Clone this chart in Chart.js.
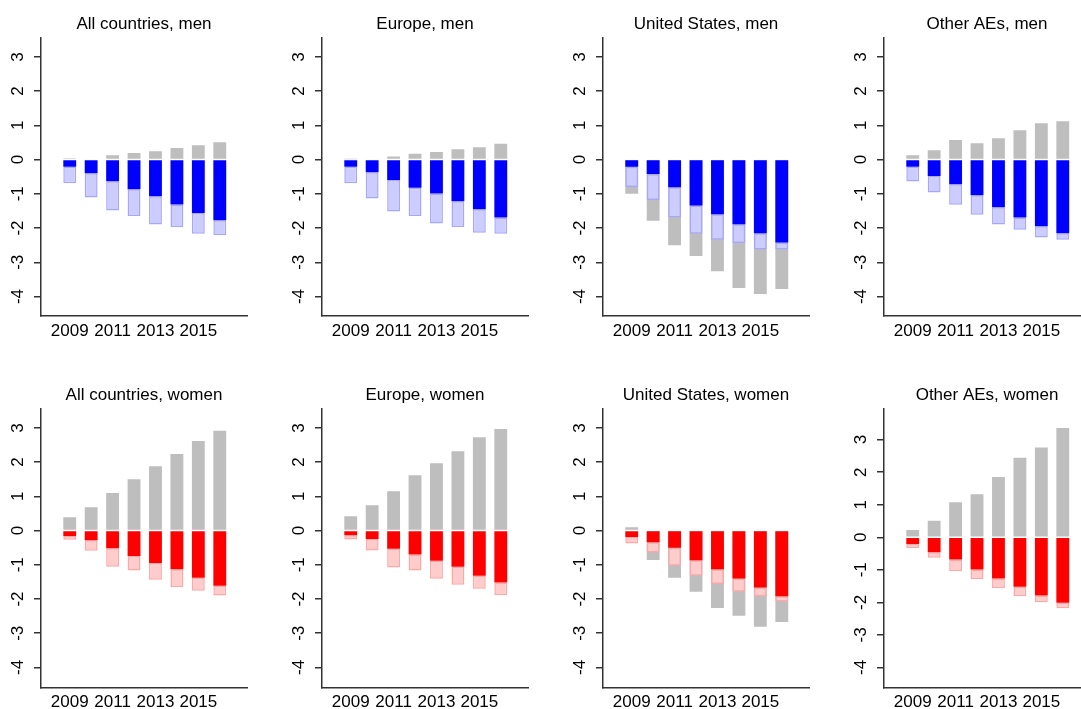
<!DOCTYPE html>
<html>
<head>
<meta charset="utf-8">
<script src="https://cdn.jsdelivr.net/npm/chart.js@4.4.1/dist/chart.umd.min.js"></script>
<style>
  html, body { margin: 0; padding: 0; background: #fff; overflow: hidden; width: 1081px; height: 709px; position: relative; }
  canvas { position: absolute; }
</style>
</head>
<body>
<script>
// ==================== data ====================
const years = [2009, 2010, 2011, 2012, 2013, 2014, 2015, 2016]
const tickYears = [2009, 2011, 2013, 2015]
const yTicks = [-4, -3, -2, -1, 0, 1, 2, 3]

// total = grey bar, dark = solid bar from 0, light = outer end of the pale bar
const allMenTotal = [0.04, 0.0, 0.13, 0.19, 0.24, 0.34, 0.42, 0.51]
const allMenDark = [-0.21, -0.40, -0.63, -0.87, -1.07, -1.31, -1.56, -1.77]
const allMenLight = [-0.69, -1.11, -1.49, -1.65, -1.90, -1.97, -2.17, -2.20]

const eurMenTotal = [0.01, 0.0, 0.09, 0.17, 0.22, 0.30, 0.36, 0.46]
const eurMenDark = [-0.21, -0.37, -0.60, -0.82, -0.99, -1.22, -1.45, -1.69]
const eurMenLight = [-0.69, -1.14, -1.52, -1.65, -1.87, -1.97, -2.14, -2.17]

const usMenTotal = [-1.00, -1.79, -2.50, -2.82, -3.26, -3.75, -3.93, -3.78]
const usMenDark = [-0.21, -0.42, -0.81, -1.34, -1.60, -1.89, -2.15, -2.42]
const usMenLight = [-0.80, -1.18, -1.69, -2.17, -2.34, -2.44, -2.63, -2.63]

const oaeMenTotal = [0.13, 0.27, 0.57, 0.48, 0.62, 0.86, 1.06, 1.12]
const oaeMenDark = [-0.21, -0.48, -0.72, -1.04, -1.39, -1.69, -1.95, -2.15]
const oaeMenLight = [-0.64, -0.96, -1.32, -1.61, -1.90, -2.05, -2.28, -2.34]

const allWomenTotal = [0.39, 0.68, 1.10, 1.50, 1.88, 2.24, 2.62, 2.92]
const allWomenDark = [-0.16, -0.28, -0.52, -0.74, -0.95, -1.13, -1.38, -1.61]
const allWomenLight = [-0.27, -0.59, -1.06, -1.17, -1.44, -1.65, -1.76, -1.90]

const eurWomenTotal = [0.42, 0.74, 1.15, 1.62, 1.97, 2.32, 2.73, 2.97]
const eurWomenDark = [-0.14, -0.25, -0.53, -0.70, -0.88, -1.06, -1.32, -1.52]
const eurWomenLight = [-0.26, -0.58, -1.08, -1.17, -1.41, -1.58, -1.70, -1.88]

const usWomenTotal = [0.10, -0.86, -1.38, -1.79, -2.26, -2.49, -2.81, -2.67]
const usWomenDark = [-0.19, -0.34, -0.50, -0.87, -1.13, -1.40, -1.66, -1.92]
const usWomenLight = [-0.38, -0.64, -1.03, -1.32, -1.56, -1.79, -1.93, -2.07]

const oaeWomenTotal = [0.22, 0.51, 1.08, 1.32, 1.85, 2.44, 2.76, 3.36]
const oaeWomenDark = [-0.21, -0.46, -0.68, -0.99, -1.27, -1.52, -1.79, -2.01]
const oaeWomenLight = [-0.33, -0.63, -1.04, -1.28, -1.56, -1.81, -2.00, -2.18]

// ==================== panels ====================
const panels = [
    { title: 'All countries, men', sex: 'men', total: allMenTotal, dark: allMenDark, light: allMenLight, yMin: -4.57, yMax: 3.57 },
    { title: 'Europe, men', sex: 'men', total: eurMenTotal, dark: eurMenDark, light: eurMenLight, yMin: -4.57, yMax: 3.57 },
    { title: 'United States, men', sex: 'men', total: usMenTotal, dark: usMenDark, light: usMenLight, yMin: -4.57, yMax: 3.57 },
    { title: 'Other AEs, men', sex: 'men', total: oaeMenTotal, dark: oaeMenDark, light: oaeMenLight, yMin: -4.57, yMax: 3.57 },
    { title: 'All countries, women', sex: 'women', total: allWomenTotal, dark: allWomenDark, light: allWomenLight, yMin: -4.58, yMax: 3.57 },
    { title: 'Europe, women', sex: 'women', total: eurWomenTotal, dark: eurWomenDark, light: eurWomenLight, yMin: -4.58, yMax: 3.57 },
    { title: 'United States, women', sex: 'women', total: usWomenTotal, dark: usWomenDark, light: usWomenLight, yMin: -4.58, yMax: 3.57 },
    { title: 'Other AEs, women', sex: 'women', total: oaeWomenTotal, dark: oaeWomenDark, light: oaeWomenLight, yMin: -4.61, yMax: 3.96 }
]

const COLORS = {
    men: { dark: '#0000ff', light: '#ccccff', lightBorder: '#a6a6ff' },
    women: { dark: '#ff0000', light: '#ffcccc', lightBorder: '#ffa6a6' }
}
const GRAY = '#bebebe'
const AXIS = '#333333'
const FONT = { family: '"Liberation Sans", Arial, Helvetica, sans-serif', size: 17 }

const COL_W = 281
const ROW_H = [371, 338]
const ROW_TOP = [0, 371]
const PLOT_BOTTOM = 316

panels.forEach((p, idx) => {
    const col = idx % 4
    const row = Math.floor(idx / 4)
    const canvas = document.createElement('canvas')
    canvas.width = COL_W
    canvas.height = ROW_H[row]
    canvas.style.left = (col * COL_W) + 'px'
    canvas.style.top = ROW_TOP[row] + 'px'
    document.body.appendChild(canvas)

    const c = COLORS[p.sex]
    const xAxisHeight = ROW_H[row] - PLOT_BOTTOM + (row === 1 ? -0.3 : 0)

    new Chart(canvas, {
        type: 'bar',
        data: {
            datasets: [
                {
                    data: years.map((x, i) => ({ x, y: [0, p.dark[i]] })),
                    backgroundColor: c.dark,
                    borderWidth: 0
                },
                {
                    data: years.map((x, i) => ({ x, y: [p.dark[i], p.light[i]] })),
                    backgroundColor: c.light,
                    borderColor: c.lightBorder,
                    borderWidth: 1.5,
                    borderSkipped: false
                },
                {
                    data: years.map((x, i) => ({ x, y: [0, p.total[i]] })),
                    backgroundColor: GRAY,
                    borderWidth: 0
                }
            ]
        },
        options: {
            responsive: false,
            animation: false,
            devicePixelRatio: 1,
            layout: { padding: { left: 0, right: 34, top: 0, bottom: 0 } },
            datasets: {
                bar: { grouped: false, barPercentage: 0.6, categoryPercentage: 1 }
            },
            plugins: {
                legend: { display: false },
                tooltip: { enabled: false },
                title: {
                    display: true,
                    fullSize: false,
                    text: p.title,
                    color: '#000',
                    font: { ...FONT, weight: 'normal' },
                    padding: { top: 14, bottom: 3 }
                }
            },
            scales: {
                x: {
                    type: 'linear',
                    min: 2007.66,
                    max: 2017.27,
                    offset: false,
                    afterBuildTicks: (s) => { s.ticks = tickYears.map(v => ({ value: v })) },
                    afterFit: (s) => { s.height = xAxisHeight },
                    ticks: {
                        callback: (v) => String(v),
                        color: '#000',
                        font: FONT,
                        padding: 5,
                        maxRotation: 0,
                        autoSkip: false
                    },
                    grid: { display: false, drawTicks: false },
                    border: { display: true, color: AXIS, width: 1.5 }
                },
                y: {
                    min: p.yMin,
                    max: p.yMax,
                    afterBuildTicks: (s) => { s.ticks = yTicks.map(v => ({ value: v })) },
                    afterFit: (s) => { s.width = 41 },
                    ticks: {
                        callback: (v) => String(v),
                        color: '#000',
                        font: FONT,
                        minRotation: 90,
                        maxRotation: 90,
                        crossAlign: 'center',
                        padding: 8
                    },
                    grid: {
                        display: true,
                        drawOnChartArea: false,
                        drawTicks: true,
                        tickLength: 7,
                        color: AXIS,
                        lineWidth: 1.5
                    },
                    border: { display: true, color: AXIS, width: 1.5 }
                }
            }
        }
    })
})
</script>
</body>
</html>
